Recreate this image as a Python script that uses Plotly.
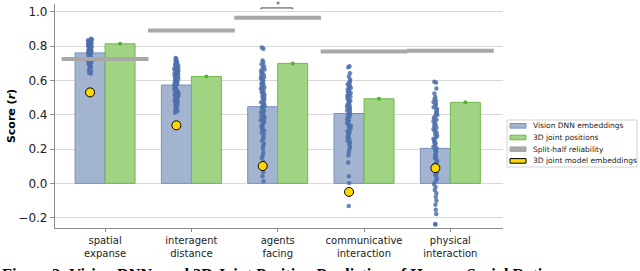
import plotly.graph_objects as go

# ---------------- data ----------------
categories = ["spatial expanse", "interagent distance", "agents facing",
              "communicative interaction", "physical interaction"]
tick_labels = ["spatial<br>expanse", "interagent<br>distance", "agents<br>facing",
               "communicative<br>interaction", "physical<br>interaction"]

vision_mean = [0.760, 0.573, 0.447, 0.407, 0.204]
joint_positions = [0.813, 0.623, 0.699, 0.493, 0.472]
split_half = [0.725, 0.890, 0.965, 0.768, 0.772]
joint_model_emb = [0.530, 0.338, 0.101, -0.050, 0.089]

spatial_dnn = [0.842, 0.838, 0.834, 0.831, 0.829, 0.826, 0.824, 0.821, 0.818, 0.816,
               0.812, 0.809, 0.806, 0.803, 0.801, 0.797, 0.794, 0.791, 0.788, 0.785,
               0.781, 0.778, 0.776, 0.772, 0.769, 0.766, 0.762, 0.759, 0.756, 0.752,
               0.748, 0.745, 0.741, 0.738, 0.734, 0.731, 0.727, 0.724, 0.721, 0.717,
               0.713, 0.709, 0.706, 0.702, 0.698, 0.694, 0.689, 0.684, 0.679, 0.673,
               0.668, 0.661, 0.652, 0.644, 0.638]
interagent_dnn = [0.731, 0.724, 0.716, 0.709, 0.703, 0.698, 0.692, 0.688, 0.683, 0.679,
                  0.674, 0.669, 0.665, 0.661, 0.657, 0.652, 0.648, 0.643, 0.639, 0.635,
                  0.631, 0.626, 0.622, 0.618, 0.613, 0.609, 0.604, 0.600, 0.596, 0.591,
                  0.587, 0.583, 0.578, 0.574, 0.569, 0.565, 0.561, 0.556, 0.552, 0.547,
                  0.543, 0.538, 0.534, 0.529, 0.525, 0.520, 0.516, 0.511, 0.506, 0.501,
                  0.497, 0.492, 0.487, 0.481, 0.476, 0.470, 0.464, 0.458, 0.451, 0.444,
                  0.437, 0.429, 0.421, 0.412]
agents_dnn = [0.791, 0.784, 0.716, 0.706, 0.694, 0.683, 0.672, 0.664, 0.657, 0.648,
              0.641, 0.633, 0.626, 0.618, 0.611, 0.603, 0.596, 0.589, 0.581, 0.574,
              0.567, 0.559, 0.552, 0.545, 0.538, 0.531, 0.523, 0.516, 0.509, 0.502,
              0.495, 0.487, 0.480, 0.473, 0.466, 0.458, 0.451, 0.444, 0.437, 0.429,
              0.422, 0.414, 0.407, 0.399, 0.391, 0.384, 0.376, 0.368, 0.360, 0.352,
              0.343, 0.334, 0.325, 0.316, 0.306, 0.296, 0.285, 0.273, 0.261, 0.248,
              0.233, 0.218, 0.204, 0.181, 0.162, 0.147, 0.125, 0.089, 0.066, 0.041, 0.012]
communicative_dnn = [0.683, 0.676, 0.641, 0.622, 0.604, 0.595, 0.586, 0.578, 0.571, 0.563,
                     0.556, 0.548, 0.541, 0.533, 0.526, 0.519, 0.511, 0.504, 0.497, 0.489,
                     0.482, 0.475, 0.468, 0.460, 0.453, 0.446, 0.439, 0.431, 0.424, 0.417,
                     0.410, 0.402, 0.395, 0.388, 0.380, 0.373, 0.366, 0.358, 0.351, 0.343,
                     0.336, 0.328, 0.320, 0.312, 0.304, 0.296, 0.287, 0.278, 0.269, 0.259,
                     0.249, 0.238, 0.226, 0.212, 0.197, 0.181, 0.163, 0.121, 0.041, 0.002,
                     -0.132]
physical_dnn = [0.592, 0.587, 0.553, 0.524, 0.503, 0.492, 0.482, 0.472, 0.463, 0.453,
                0.444, 0.435, 0.425, 0.416, 0.407, 0.398, 0.389, 0.379, 0.370, 0.361,
                0.352, 0.343, 0.334, 0.324, 0.315, 0.306, 0.297, 0.288, 0.278, 0.269,
                0.260, 0.251, 0.241, 0.232, 0.223, 0.213, 0.204, 0.194, 0.185, 0.175,
                0.166, 0.156, 0.146, 0.136, 0.126, 0.116, 0.105, 0.095, 0.084, 0.073,
                0.062, 0.050, 0.038, 0.025, 0.012, -0.004, -0.021, -0.039, -0.058, -0.079,
                -0.101, -0.124, -0.153, -0.179, -0.236, -0.239]
dnn_scores = [spatial_dnn, interagent_dnn, agents_dnn, communicative_dnn, physical_dnn]

legend_names = ["Vision DNN embeddings", "3D joint positions",
                "Split-half reliability", "3D joint model embeddings"]

sig_category = "agents facing"
sig_label = "*"

y_ticks = [-0.2, 0.0, 0.2, 0.4, 0.6, 0.8, 1.0]
caption = "Figure 2: Vision DNNs and 3D Joint Position Prediction of Human Social Ratings"

# ---------------- styling ----------------
FONT = "DejaVu Sans"
BLUE_FILL = "rgb(163,180,208)"
BLUE_EDGE = "rgb(120,145,188)"
GREEN_FILL = "rgb(160,211,132)"
GREEN_EDGE = "rgb(112,184,80)"
GRAY = "rgb(168,168,168)"
YELLOW = "#FFD700"
DOT = "rgba(76,112,172,0.85)"
AX = "rgb(140,140,140)"
TXT = "rgb(34,34,34)"
BARGAP = 0.305

W, H = 640, 271
ML, MR, MT, MB = 55, 137, 4, 43
PW, PH = W - ML - MR, H - MT - MB


def px(xp):
    return (xp - ML) / PW


def py(yp):
    return (H - MB - yp) / PH


fig = go.Figure()

fig.add_bar(name=legend_names[0], x=categories, y=vision_mean,
            marker=dict(color=BLUE_FILL, line=dict(color=BLUE_EDGE, width=1)),
            offsetgroup="v", showlegend=False)
fig.add_bar(name=legend_names[1], x=categories, y=joint_positions,
            marker=dict(color=GREEN_FILL, line=dict(color=GREEN_EDGE, width=1)),
            offsetgroup="g", showlegend=False)

# strip of DNN scores (jitter handled by plotly)
xs, ys = [], []
for c, vals in zip(categories, dnn_scores):
    xs += [c] * len(vals)
    ys += vals
fig.add_trace(go.Box(x=xs, y=ys, boxpoints="all", jitter=0.14, pointpos=0,
                     fillcolor="rgba(0,0,0,0)", line=dict(width=0, color="rgba(0,0,0,0)"),
                     marker=dict(color=DOT, size=4.5), offsetgroup="v",
                     showlegend=False, hoverinfo="y", name=legend_names[0]))
# green point on top of green bars
fig.add_trace(go.Box(x=categories, y=joint_positions, boxpoints="all", jitter=0, pointpos=0,
                     fillcolor="rgba(0,0,0,0)", line=dict(width=0, color="rgba(0,0,0,0)"),
                     marker=dict(color="rgb(80,180,40)", size=4), offsetgroup="g",
                     showlegend=False, hoverinfo="y", name=legend_names[1]))
# 3D joint model embeddings
fig.add_trace(go.Box(x=categories, y=joint_model_emb, boxpoints="all", jitter=0, pointpos=0,
                     fillcolor="rgba(0,0,0,0)", line=dict(width=0, color="rgba(0,0,0,0)"),
                     marker=dict(color=YELLOW, size=9, line=dict(color="black", width=1)),
                     offsetgroup="v", showlegend=False, hoverinfo="y", name=legend_names[3]))
# split-half reliability
fig.add_trace(go.Scatter(x=categories, y=split_half, mode="markers", name=legend_names[2],
                         marker=dict(symbol="line-ew", size=62,
                                     line=dict(width=4, color=GRAY)),
                         showlegend=False, hoverinfo="y"))

# significance bracket
ci = categories.index(sig_category)
half = (1 - BARGAP) / 4
xl, xr = ci - half - 0.02, ci + half
fig.add_shape(type="path", xref="x", yref="y",
              path=f"M {xl},1.015 L {xl},1.022 L {xr},1.022 L {xr},1.015",
              line=dict(color="rgb(70,70,70)", width=1))
fig.add_annotation(x=ci, y=py(-1), xref="x", yref="paper", text=sig_label, showarrow=False,
                   yanchor="top", font=dict(family=FONT, size=8, color="rgb(70,70,70)"))

# legend drawn as a boxed key
fig.add_shape(type="rect", xref="paper", yref="paper",
              x0=px(507), x1=px(637), y0=py(167), y1=py(120),
              line=dict(color="rgb(210,210,210)", width=1), fillcolor="white", layer="above")
legend_fill = [BLUE_FILL, GREEN_FILL, GRAY, YELLOW]
legend_edge = [BLUE_EDGE, GREEN_EDGE, GRAY, "black"]
for i, (name, fc, ec) in enumerate(zip(legend_names, legend_fill, legend_edge)):
    yc = 125.8 + 11.7 * i
    fig.add_shape(type="rect", xref="paper", yref="paper",
                  x0=px(510), x1=px(526), y0=py(yc + 2.3), y1=py(yc - 2.3),
                  line=dict(color=ec, width=1), fillcolor=fc, layer="above")
    fig.add_annotation(x=px(531), y=py(yc), xref="paper", yref="paper", text=name,
                       showarrow=False, xanchor="left", yanchor="middle",
                       font=dict(family=FONT, size=7.5, color=TXT))

# caption (cut by the page bottom)
fig.add_annotation(x=px(0), y=py(263), xref="paper", yref="paper", text=f"<b>{caption}</b>",
                   showarrow=False, xanchor="left", yanchor="top",
                   font=dict(family="Liberation Serif", size=16.3, color="black"))

fig.update_layout(
    width=W, height=H,
    margin=dict(l=ML, r=MR, t=MT, b=MB, autoexpand=False),
    plot_bgcolor="white", paper_bgcolor="white",
    barmode="group", bargap=BARGAP, bargroupgap=0,
    boxmode="group", boxgap=BARGAP, boxgroupgap=0,
    font=dict(family=FONT, color=TXT),
    showlegend=False,
)
fig.update_xaxes(range=[-0.58, 4.61], tickvals=categories, ticktext=tick_labels,
                 tickfont=dict(family=FONT, size=10, color=TXT), automargin=False,
                 showline=True, linecolor=AX, linewidth=1.2,
                 ticks="outside", ticklen=3, tickcolor=AX, showgrid=False)
fig.update_yaxes(range=[-0.26, 1.045], tickvals=y_ticks, tickformat=".1f",
                 tickfont=dict(family=FONT, size=12, color=TXT), automargin=False,
                 showline=True, linecolor=AX, linewidth=1.2,
                 ticks="outside", ticklen=4, tickcolor=AX,
                 showgrid=True, gridcolor="rgb(217,217,217)", gridwidth=1, zeroline=False,
                 title=dict(text="<b>Score (<i>r</i>)</b>", standoff=0,
                            font=dict(family=FONT, size=11, color="black")))

fig.write_html("out.html", config={"displayModeBar": False},
               post_script="document.body.style.margin='0px';document.body.style.overflow='hidden';")
